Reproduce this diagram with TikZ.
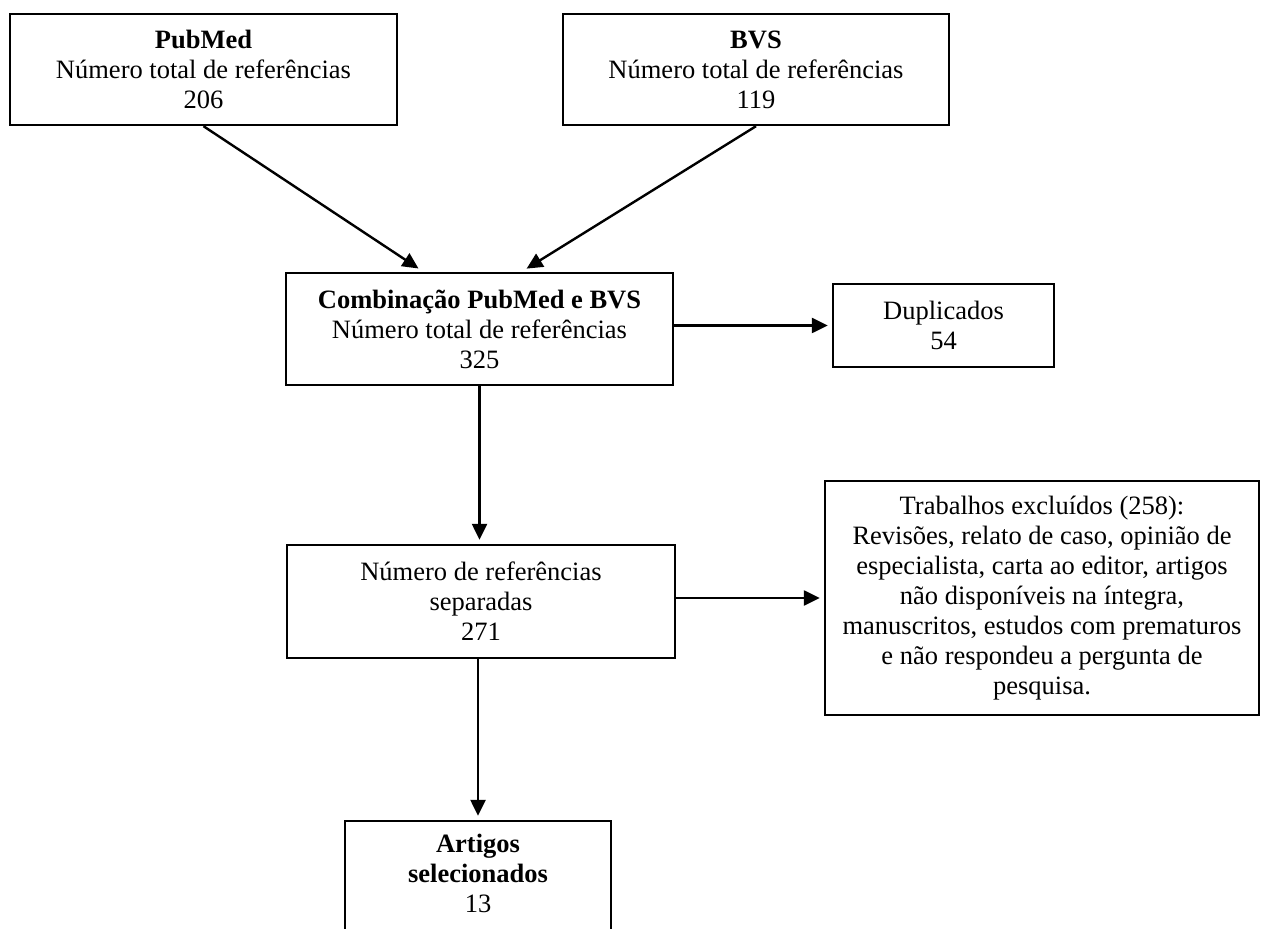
\documentclass[tikz,border=0pt]{standalone}
\usepackage{fontspec}
\setmainfont{Liberation Serif}
\usetikzlibrary{arrows.meta}

\begin{document}
\begin{tikzpicture}[x=0.5pt,y=-0.5pt,
		box/.style={draw,line width=1.2pt,inner sep=0pt,align=center,font=\fontsize{13.25}{15}\selectfont,
			execute at begin node={\rule{0pt}{12.8pt}}},
		flow/.style={line width=1.2pt,-{Triangle[length=8pt,width=7.5pt]},shorten >=2pt}]
		\useasboundingbox[fill=white] (0,0) rectangle (1261,929);
		
		% bases
		\node[box,minimum width=193.5pt,minimum height=55.5pt] at (203.5,69.5) (pubmed) {\textbf{PubMed}\\Número total de referências\\206};
		\node[box,minimum width=193pt,minimum height=55.5pt] at (756,69.5) (bvs) {\textbf{BVS}\\Número total de referências\\119};
		
		\node[box,minimum width=193.5pt,minimum height=56pt] at (479.5,329) (comb) {\textbf{Combinação PubMed e BVS}\\Número total de referências\\325};
		\node[box,minimum width=110.5pt,minimum height=41.5pt] at (943.5,325.5) (dup) {Duplicados\\54};
		
		\node[box,minimum width=194pt,minimum height=56.5pt] at (481,601.5) (sep) {Número de referências\\separadas\\271};
		\node[box,minimum width=217pt,minimum height=117pt] at (1042,598) (excl) {Trabalhos excluídos (258):\\Revisões, relato de caso, opinião de\\especialista, carta ao editor, artigos\\não disponíveis na íntegra,\\manuscritos, estudos com prematuros\\e não respondeu a pergunta de\\pesquisa.};
		
		% caixa final, cortada em baixo
		\node[box,minimum width=133pt,minimum height=56pt,execute at begin node={},
			execute at end node={\rule[-4pt]{0pt}{4pt}}] at (478,877) (art) {\textbf{Artigos}\\\textbf{selecionados}\\13};
		
		\draw[flow,shorten >=3pt] (pubmed.south) -- ([xshift=-28pt]comb.north);
		\draw[flow,shorten >=3pt] (bvs.south) -- ([xshift=21pt]comb.north);
		\draw[flow] (dup.west -| comb.east) -- (dup.west);
		\draw[flow] (comb.south) -- (comb.south |- sep.north);
		\draw[flow] (excl.west -| sep.east) -- (excl.west);
		\draw[flow] (art.north |- sep.south) -- (art.north);
\end{tikzpicture}
\end{document}
